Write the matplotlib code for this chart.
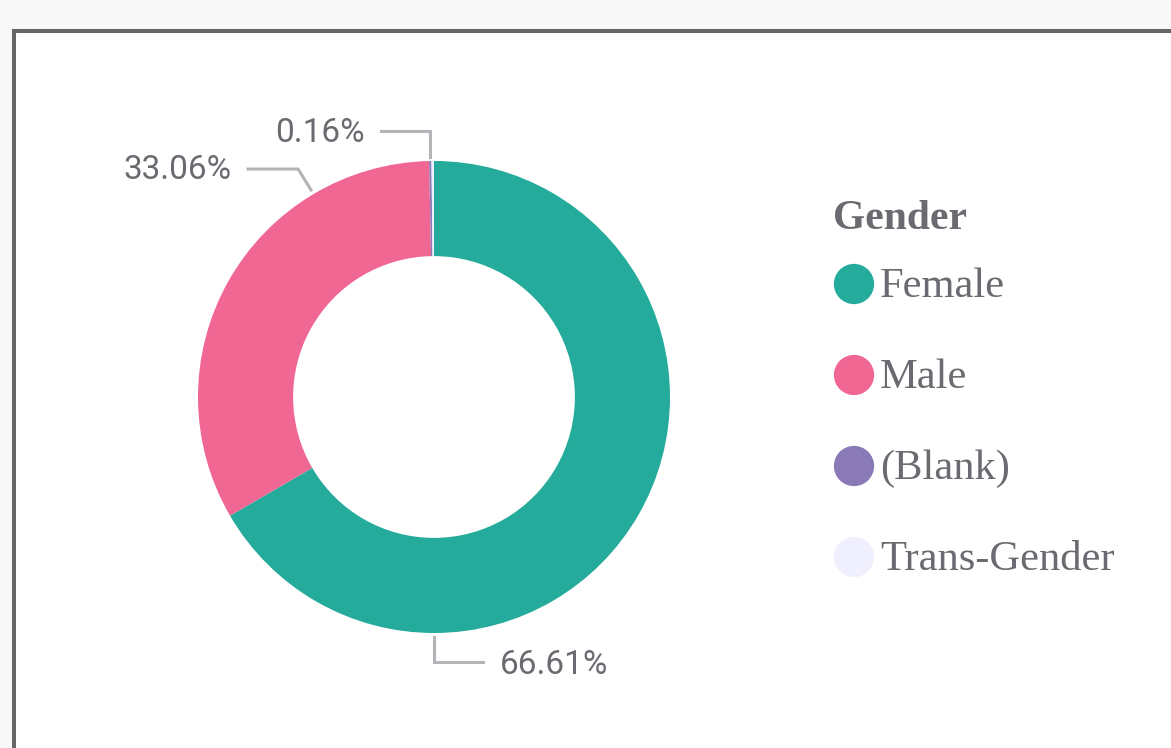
# donut chart of gender split with a side legend
import matplotlib.pyplot as plt
from matplotlib.patches import Rectangle

# data
genders = ['Female', 'Male', '(Blank)', 'Trans-Gender']
shares = [66.61, 33.06, 0.16, 0.17]
colors = ['#24ab9b', '#f06794', '#8979b6', '#efeffd']

W, H = 1171, 748
txt_col = '#6b6a70'
line_col = '#b4b4b8'

fig = plt.figure(figsize=(W / 100, H / 100), dpi=100, facecolor='#f8f8f8')

# overlay axes in pixel coords for frame + legend
ov = fig.add_axes([0, 0, 1, 1])
ov.set_xlim(0, W)
ov.set_ylim(H, 0)
ov.axis('off')
ov.add_patch(Rectangle((14, 31), 1300, 900, fc='white', ec='#666666', lw=2.9, clip_on=False))

# donut: centre (434, 397) px, radius 236 px
cx, cy, r = 434, 397, 236
ax = fig.add_axes([(cx - r) / W, (H - cy - r) / H, 2 * r / W, 2 * r / H])
ax.pie(shares, colors=colors, startangle=90, counterclock=False, radius=1,
       wedgeprops=dict(width=0.403, edgecolor='none'))
ax.set_xlim(-1, 1)
ax.set_ylim(-1, 1)
ax.set_aspect('equal')

# leader lines (anchor, elbow, end, text pos, ha) per labelled slice
leaders = {
    0: [(0.0, -1.017), (0.0, -1.123), (0.208, -1.123), (0.280, -1.136), 'left'],
    1: [(-0.521, 0.877), (-0.576, 0.966), (-0.788, 0.966), (-0.856, 0.960), 'right'],
    2: [(-0.017, 1.017), (-0.017, 1.127), (-0.225, 1.127), (-0.292, 1.117), 'right'],
}
for i, (p0, p1, p2, tp, ha) in leaders.items():
    ax.plot([p0[0], p1[0], p2[0]], [p0[1], p1[1], p2[1]], color=line_col, lw=2.2,
            clip_on=False, solid_joinstyle='miter')
    ax.text(tp[0], tp[1], f'{shares[i]:.2f}%', ha=ha, va='center', fontsize=24,
            family='Roboto', color=txt_col, clip_on=False)

# legend
ov.text(833, 229, 'Gender', family='Liberation Serif', weight='bold', fontsize=30,
        color=txt_col, va='baseline', ha='left')
for k, (g, c) in enumerate(zip(genders, colors)):
    y = 284 + k * 91
    ov.scatter([854], [y], s=840, color=c, edgecolors='none')
    ov.text(880, y + 13, g, family='Liberation Serif', fontsize=30.6, color=txt_col,
            va='baseline', ha='left')

fig.savefig('out.png', dpi=100, facecolor=fig.get_facecolor())
